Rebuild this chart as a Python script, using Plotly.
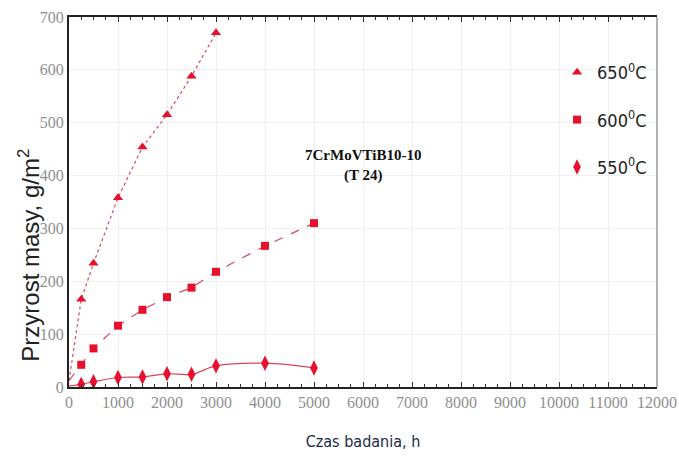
import plotly.graph_objects as go

# Mass gain of 7CrMoVTiB10-10 (T24) steel vs. exposure time
time_650 = [250, 500, 1000, 1500, 2000, 2500, 3000]
gain_650 = [166, 234, 358, 454, 515, 588, 670]

time_600 = [250, 500, 1000, 1500, 2000, 2500, 3000, 4000, 5000]
gain_600 = [42, 73, 116, 146, 170, 188, 218, 267, 310]

time_550 = [250, 500, 1000, 1500, 2000, 2500, 3000, 4000, 5000]
gain_550 = [5, 10, 18, 19, 25, 24, 40, 45, 36]

# fitted curves start near the origin
start_time = 0
start_gain = [12, 12, 2]

labels = ["650<sup>0</sup>C", "600<sup>0</sup>C", "550<sup>0</sup>C"]
x_ticks = list(range(0, 12001, 1000))
x_ticktext = [str(v) for v in x_ticks]
y_ticks = list(range(0, 701, 100))
y_ticktext = [str(v) for v in y_ticks]

red = "#e8112d"
line_col = "#d9465a"
narrow = "DejaVu Sans Condensed, Liberation Sans, sans-serif"
tick_font = dict(family="Liberation Serif", size=16, color="#8f8f8f")

fig = go.Figure()

series = [
    (time_650, gain_650, start_gain[0], "triangle-up", 9, "dot", "linear", labels[0]),
    (time_600, gain_600, start_gain[1], "square", 8, "dash", "linear", labels[1]),
    (time_550, gain_550, start_gain[2], "diamond-tall", 11, "solid", "spline", labels[2]),
]

for t, g, g0, sym, size, dash, shape, name in series:
    fig.add_trace(go.Scatter(
        x=[start_time] + t, y=[g0] + g, mode="lines",
        line=dict(color=line_col, width=1.2, dash=dash, shape=shape),
        showlegend=False, hoverinfo="skip",
    ))
    fig.add_trace(go.Scatter(
        x=t, y=g, mode="markers", name=name,
        marker=dict(symbol=sym, size=size, color=red),
        legendgroup=name,
    ))

fig.add_annotation(
    x=6000, y=420, xref="x", yref="y",
    text="<b>7CrMoVTiB10-10</b><br><b>(T 24)</b>",
    showarrow=False, align="center",
    font=dict(family="Liberation Serif", size=15, color="#111"),
)

# y-axis title placed as a rotated annotation
fig.add_annotation(
    x=-0.068, y=0.355, xref="paper", yref="paper",
    text="Przyrost masy, g/m<sup>2</sup>", textangle=-90,
    showarrow=False, xanchor="center", yanchor="middle",
    font=dict(family="Liberation Sans", size=24, color="#222"),
)

fig.update_layout(
    width=679, height=464,
    margin=dict(l=69, r=22, t=17, b=77, autoexpand=False),
    paper_bgcolor="white", plot_bgcolor="white",
    legend=dict(
        x=0.83, y=0.9, xanchor="left", yanchor="top",
        font=dict(family=narrow, size=18, color="#222"),
        bgcolor="rgba(0,0,0,0)", tracegroupgap=21,
    ),
    xaxis=dict(
        range=[0, 12000], tickvals=x_ticks, ticktext=x_ticktext,
        ticks="inside", ticklen=5,
        tickcolor="#333", mirror="allticks", showline=True,
        linecolor="#222", linewidth=1.5,
        minor=dict(dtick=250, ticks="inside", ticklen=3, tickcolor="#333"),
        showgrid=True, gridcolor="#f0f0f0", gridwidth=1,
        tickfont=tick_font,
        title=dict(text="Czas badania, h", standoff=26,
                   font=dict(family=narrow, size=16, color="#1a2a4a")),
        zeroline=False,
    ),
    yaxis=dict(
        range=[0, 700], tickvals=y_ticks, ticktext=y_ticktext,
        ticks="", showline=True,
        linecolor="#222", linewidth=2, mirror=False,
        showgrid=True, gridcolor="#f0f0f0", gridwidth=1,
        tickfont=tick_font,
        zeroline=False,
    ),
)

# right border in lighter grey
fig.add_shape(type="line", xref="paper", yref="paper", x0=1, x1=1, y0=0, y1=1,
              line=dict(color="#999", width=1.5))

fig.write_html("out.html")
